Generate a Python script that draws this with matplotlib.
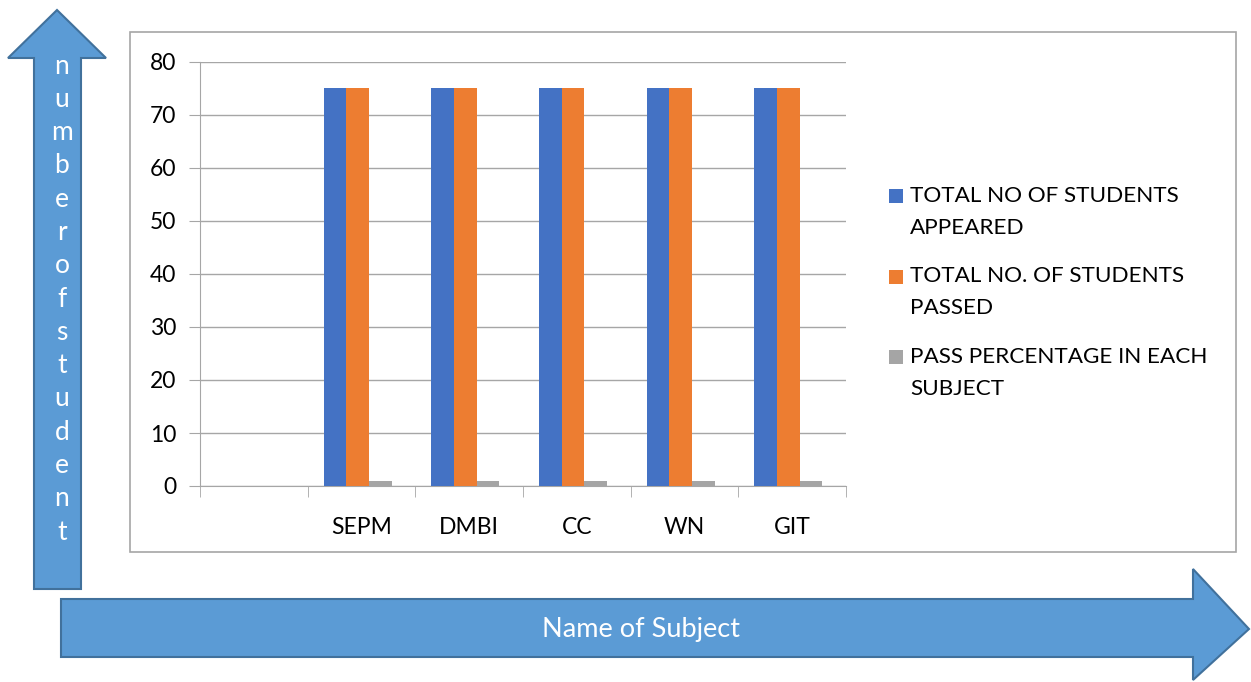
import numpy as np
import matplotlib
matplotlib.use('Agg')
import matplotlib.pyplot as plt
from matplotlib.patches import Polygon, Rectangle

plt.rcParams['font.family'] = ['Lato', 'DejaVu Sans']

# data (first category is blank)
subjects = ['', 'SEPM', 'DMBI', 'CC', 'WN', 'GIT']
appeared = [np.nan, 75, 75, 75, 75, 75]
passed = [np.nan, 75, 75, 75, 75, 75]
pass_pct = [np.nan, 1, 1, 1, 1, 1]
series_names = ['TOTAL NO OF STUDENTS\nAPPEARED',
                'TOTAL NO. OF STUDENTS\nPASSED',
                'PASS PERCENTAGE IN EACH\nSUBJECT']
colors = ['#4472C4', '#ED7D31', '#A5A5A5']
y_ticks = list(range(0, 81, 10))
y_label = 'number of student'
x_label = 'Name of Subject'

W, H = 1251, 682
fig = plt.figure(figsize=(W / 100, H / 100), dpi=100)

# overlay in pixel coords for the decoration (arrows, frame, legend)
ov = fig.add_axes([0, 0, 1, 1])
ov.set_xlim(0, W)
ov.set_ylim(H, 0)
ov.axis('off')

arrow_fill = '#5B9BD5'
arrow_edge = '#41719C'
up = [(34, 589), (34, 58), (8, 58), (57, 10), (106, 58), (81, 58), (81, 589)]
ov.add_patch(Polygon(up, closed=True, fc=arrow_fill, ec=arrow_edge, lw=1.5))
right = [(61, 599), (1193, 599), (1193, 569), (1249, 629),
         (1193, 680), (1193, 657), (61, 657)]
ov.add_patch(Polygon(right, closed=True, fc=arrow_fill, ec=arrow_edge, lw=1.5))

# axis titles written inside the arrows, one letter per line on the left
letters = [c for c in y_label if c != ' ']
for i, c in enumerate(letters):
    ov.text(62, 66 + i * 33.3, c, color='white', fontsize=19,
            ha='center', va='center')
ov.text(641, 630, x_label, color='white', fontsize=19.5, ha='center', va='center')

ov.add_patch(Rectangle((130, 32), 1106, 520, fc='white', ec='#A6A6A6', lw=1.2))

# legend drawn by hand so the square sits on the first line
for i, (name, col) in enumerate(zip(series_names, colors)):
    y0 = 196 + i * 80.5
    ov.add_patch(Rectangle((889, y0 - 7), 14, 14, fc=col, ec='none'))
    for j, ln in enumerate(name.split('\n')):
        ov.text(910, y0 + j * 32, ln, fontsize=16.2, ha='left', va='center')

# main chart
ax = fig.add_axes([200 / W, (H - 486) / H, 646 / W, (486 - 62) / H])
ax.set_facecolor('none')
x = np.arange(len(subjects))
bw = 0.21
for k, (vals, col) in enumerate(zip([appeared, passed, pass_pct], colors)):
    ax.bar(x + (k - 1) * bw - 0.035, vals, bw, color=col, zorder=3)

ax.set_xlim(-0.5, len(subjects) - 0.5)
ax.set_ylim(0, 80)
ax.set_yticks(y_ticks)
ax.set_xticks(x)
ax.set_xticklabels(subjects)
ax.set_xticks(np.arange(len(subjects) + 1) - 0.5, minor=True)
ax.grid(axis='y', color='#A6A6A6', lw=1, zorder=0)
for s in ['top', 'right']:
    ax.spines[s].set_visible(False)
for s in ['left', 'bottom']:
    ax.spines[s].set_color('#A6A6A6')
ax.tick_params(axis='y', length=8, color='#A6A6A6', labelsize=16.5, pad=9)
ax.tick_params(axis='x', which='major', length=0, labelsize=16.5, pad=22)
ax.tick_params(axis='x', which='minor', length=8, color='#A6A6A6')

fig.savefig('out.png', dpi=100)
